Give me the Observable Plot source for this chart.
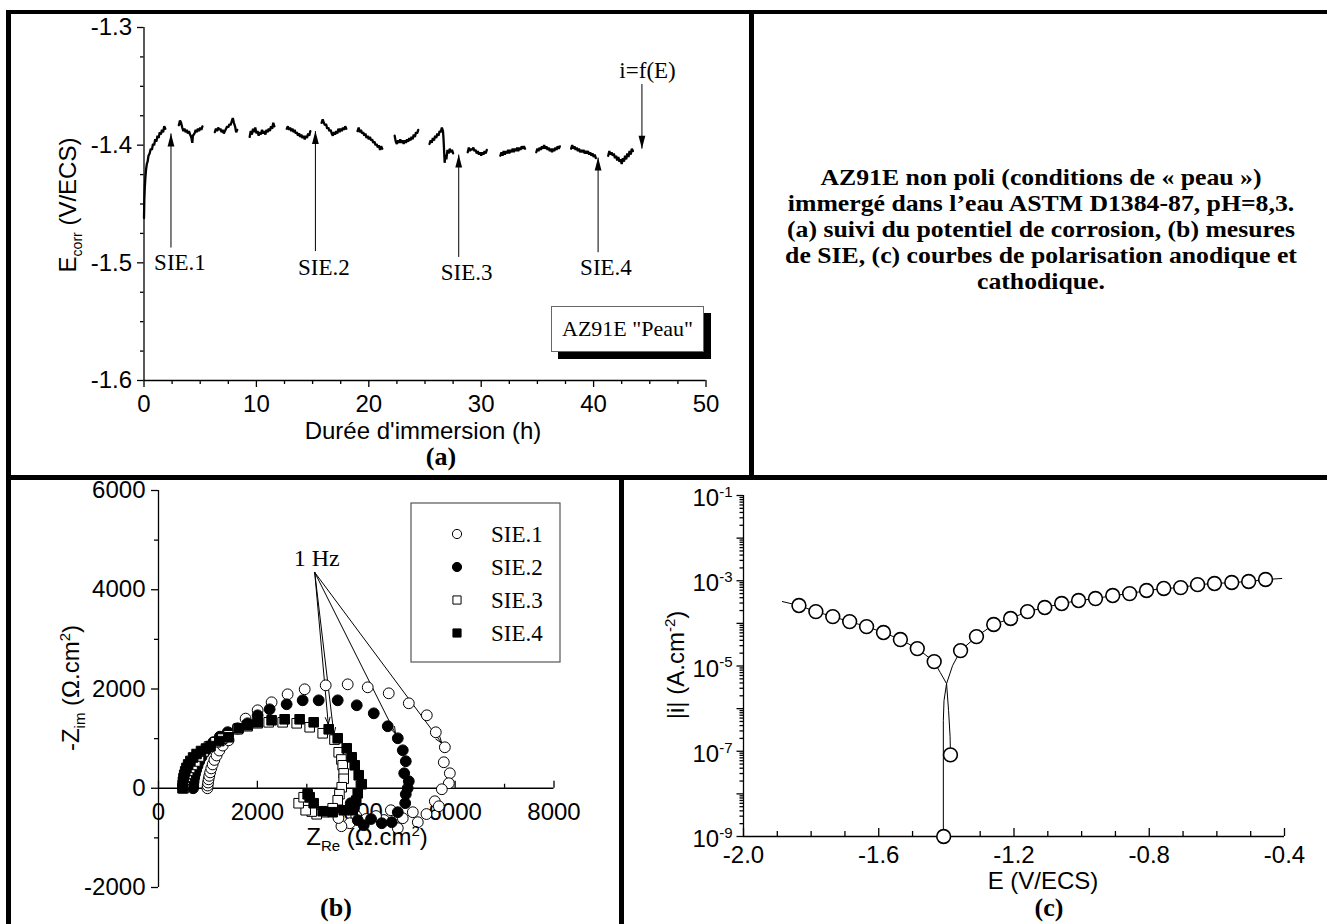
<!DOCTYPE html>
<html><head><meta charset="utf-8">
<script src="https://cdn.jsdelivr.net/npm/d3@7"></script>
<script src="https://cdn.jsdelivr.net/npm/@observablehq/plot@0.6"></script>
<style>
body{margin:0;background:#fff;}
#page{position:relative;width:1327px;height:924px;overflow:hidden;background:#fff;font-family:'Liberation Sans',Arial,sans-serif;color:#000;}
.bar{position:absolute;background:#000;z-index:5;}
.panel{position:absolute;}
.atitle{position:absolute;white-space:nowrap;font-family:'Liberation Sans',Arial,sans-serif;font-size:24px;line-height:1;}
.atitle sub,.atitle sup{font-size:15px;}
.plab{position:absolute;transform:translate(-50%,-50%);font-family:'Liberation Serif','Times New Roman',serif;font-weight:bold;font-size:26px;line-height:1;}
.dline{position:absolute;left:755px;width:572px;text-align:center;font-family:'Liberation Serif','Times New Roman',serif;font-weight:bold;font-size:23.4px;line-height:1;transform:translateY(-50%) scaleX(1.1);transform-origin:50% 50%;white-space:nowrap;}
</style></head><body>
<div id="page">
  <div id="pa" class="panel" style="left:0;top:0;width:750px;height:475px"></div>
  <div id="pb" class="panel" style="left:0;top:475px;width:620px;height:449px"></div>
  <div id="pc" class="panel" style="left:620px;top:475px;width:707px;height:449px"></div>
</div>
<script>
// ---------------- DATA ----------------
// (a) corrosion potential vs immersion time: segments [t (h), E (V/ECS)]
const ecorrSegments = [
 [[0,-1.462],[0.03,-1.446],[0.07,-1.436],[0.12,-1.428],[0.18,-1.421],[0.25,-1.416],[0.32,-1.414],[0.4,-1.409],[0.5,-1.407],[0.6,-1.403],[0.7,-1.404],[0.8,-1.399],[0.9,-1.400],[1.0,-1.395],[1.1,-1.397],[1.2,-1.392],[1.3,-1.394],[1.4,-1.389],[1.5,-1.391],[1.6,-1.387],[1.7,-1.389],[1.8,-1.384],[1.9,-1.386]],
 [[3.1,-1.383],[3.2,-1.379],[3.3,-1.381],[3.4,-1.385],[3.5,-1.388],[3.6,-1.386],[3.7,-1.389],[3.8,-1.387],[3.9,-1.390],[4.0,-1.388],[4.1,-1.391],[4.2,-1.393],[4.3,-1.398],[4.35,-1.392],[4.5,-1.390],[4.6,-1.387],[4.7,-1.389],[4.8,-1.386],[4.9,-1.388],[5.0,-1.385],[5.1,-1.387],[5.2,-1.384]],
 [[6.3,-1.389],[6.4,-1.386],[6.5,-1.388],[6.6,-1.385],[6.7,-1.387],[6.8,-1.386],[6.9,-1.389],[7.0,-1.387],[7.1,-1.390],[7.2,-1.388],[7.3,-1.386],[7.4,-1.384],[7.5,-1.385],[7.6,-1.382],[7.7,-1.383],[7.8,-1.380],[7.9,-1.377],[8.0,-1.381],[8.1,-1.384],[8.2,-1.389],[8.3,-1.387]],
 [[9.4,-1.393],[9.5,-1.388],[9.6,-1.391],[9.7,-1.386],[9.8,-1.389],[9.9,-1.385],[10.0,-1.390],[10.1,-1.388],[10.2,-1.392],[10.3,-1.389],[10.4,-1.391],[10.5,-1.387],[10.6,-1.390],[10.7,-1.388],[10.8,-1.391],[10.9,-1.387],[11.0,-1.389],[11.1,-1.386],[11.2,-1.388],[11.3,-1.384],[11.4,-1.386],[11.5,-1.381],[11.6,-1.384]],
 [[12.7,-1.386],[12.8,-1.384],[12.9,-1.387],[13.0,-1.385],[13.1,-1.388],[13.2,-1.386],[13.3,-1.389],[13.4,-1.387],[13.5,-1.390],[13.6,-1.389],[13.7,-1.392],[13.8,-1.390],[13.9,-1.393],[14.0,-1.391],[14.1,-1.394],[14.2,-1.392],[14.3,-1.395],[14.4,-1.392],[14.5,-1.394],[14.6,-1.390],[14.7,-1.392],[14.8,-1.388]],
 [[15.8,-1.381],[15.9,-1.378],[16.0,-1.381],[16.1,-1.383],[16.2,-1.382],[16.3,-1.386],[16.4,-1.385],[16.5,-1.388],[16.6,-1.387],[16.7,-1.390],[16.8,-1.392],[16.9,-1.389],[17.0,-1.391],[17.1,-1.388],[17.2,-1.390],[17.3,-1.386],[17.4,-1.389],[17.5,-1.386],[17.6,-1.388],[17.7,-1.385],[17.8,-1.387],[17.9,-1.384],[18.0,-1.386]],
 [[19.0,-1.388],[19.1,-1.385],[19.2,-1.389],[19.3,-1.387],[19.4,-1.390],[19.5,-1.389],[19.6,-1.392],[19.7,-1.390],[19.8,-1.394],[19.9,-1.392],[20.0,-1.395],[20.1,-1.393],[20.2,-1.396],[20.3,-1.395],[20.4,-1.398],[20.5,-1.397],[20.6,-1.400],[20.7,-1.399],[20.8,-1.402],[20.9,-1.400],[21.0,-1.404],[21.1,-1.401],[21.2,-1.403]],
 [[22.3,-1.392],[22.4,-1.397],[22.5,-1.399],[22.6,-1.396],[22.7,-1.398],[22.8,-1.395],[22.9,-1.398],[23.0,-1.396],[23.1,-1.399],[23.2,-1.396],[23.3,-1.398],[23.4,-1.395],[23.5,-1.397],[23.6,-1.394],[23.7,-1.396],[23.8,-1.393],[23.9,-1.395],[24.0,-1.391],[24.1,-1.393],[24.2,-1.389],[24.3,-1.390],[24.4,-1.387]],
 [[25.4,-1.399],[25.5,-1.396],[25.6,-1.398],[25.7,-1.394],[25.8,-1.396],[25.9,-1.392],[26.0,-1.394],[26.1,-1.390],[26.2,-1.392],[26.3,-1.388],[26.4,-1.389],[26.5,-1.385],[26.6,-1.388],[26.65,-1.395],[26.7,-1.405],[26.75,-1.415],[26.8,-1.408],[26.9,-1.412],[27.0,-1.404],[27.1,-1.407],[27.2,-1.403],[27.3,-1.406],[27.4,-1.404],[27.5,-1.407]],
 [[28.8,-1.406],[28.9,-1.402],[29.0,-1.405],[29.1,-1.403],[29.2,-1.404],[29.3,-1.402],[29.4,-1.405],[29.5,-1.404],[29.6,-1.407],[29.7,-1.405],[29.8,-1.408],[29.9,-1.406],[30.0,-1.409],[30.1,-1.406],[30.2,-1.408],[30.3,-1.405],[30.4,-1.407],[30.5,-1.404]],
 [[31.7,-1.409],[31.8,-1.406],[31.9,-1.409],[32.0,-1.405],[32.1,-1.408],[32.2,-1.405],[32.3,-1.407],[32.4,-1.404],[32.5,-1.407],[32.6,-1.404],[32.7,-1.406],[32.8,-1.403],[32.9,-1.406],[33.0,-1.403],[33.1,-1.405],[33.2,-1.402],[33.3,-1.405],[33.4,-1.402],[33.5,-1.404],[33.6,-1.401],[33.7,-1.403],[33.8,-1.401],[33.9,-1.403]],
 [[34.9,-1.406],[35.0,-1.403],[35.1,-1.405],[35.2,-1.402],[35.3,-1.404],[35.4,-1.401],[35.5,-1.403],[35.6,-1.400],[35.7,-1.403],[35.8,-1.401],[35.9,-1.404],[36.0,-1.402],[36.1,-1.405],[36.2,-1.403],[36.3,-1.406],[36.4,-1.403],[36.5,-1.405],[36.6,-1.402],[36.7,-1.404],[36.8,-1.401],[36.9,-1.403],[37.0,-1.401]],
 [[38.0,-1.403],[38.1,-1.400],[38.2,-1.403],[38.3,-1.401],[38.4,-1.404],[38.5,-1.402],[38.6,-1.405],[38.7,-1.403],[38.8,-1.406],[38.9,-1.404],[39.0,-1.406],[39.1,-1.404],[39.2,-1.407],[39.3,-1.405],[39.4,-1.407],[39.5,-1.405],[39.6,-1.408],[39.7,-1.406],[39.8,-1.409],[39.9,-1.407],[40.0,-1.410],[40.1,-1.408],[40.2,-1.411]],
 [[41.3,-1.409],[41.4,-1.405],[41.5,-1.408],[41.6,-1.406],[41.7,-1.409],[41.8,-1.407],[41.9,-1.411],[42.0,-1.409],[42.1,-1.413],[42.2,-1.410],[42.3,-1.414],[42.4,-1.412],[42.5,-1.416],[42.6,-1.411],[42.7,-1.414],[42.8,-1.409],[42.9,-1.412],[43.0,-1.407],[43.1,-1.410],[43.2,-1.405],[43.3,-1.408],[43.4,-1.403],[43.5,-1.405]]
];
const timeTicks = [0, 10, 20, 30, 40, 50];
const timeMinorTicks = [2.5,5,7.5,12.5,15,17.5,22.5,25,27.5,32.5,35,37.5,42.5,45,47.5];
const ecorrTicks = [-1.6, -1.5, -1.4, -1.3];
const ecorrMinorTicks = [-1.575,-1.55,-1.525,-1.475,-1.45,-1.425,-1.375,-1.35,-1.325];
// annotations of (a): measurement instants
const sieEvents = [
  {name: "SIE.1", t: 2.4,   tip: -1.390, tail: -1.487, labelT: 3.2,  labelE: -1.500},
  {name: "SIE.2", t: 15.25, tip: -1.388, tail: -1.490, labelT: 16.0, labelE: -1.504},
  {name: "SIE.3", t: 28.0,  tip: -1.408, tail: -1.495, labelT: 28.7, labelE: -1.508},
  {name: "SIE.4", t: 40.4,  tip: -1.4105, tail: -1.491, labelT: 41.1, labelE: -1.504}
];
const polEvent = [{name: "i=f(E)", t: 44.3, tail: -1.348, tip: -1.403, labelT: 44.8, labelE: -1.337}];

// (b) Nyquist diagrams [Zre, -Zim] in ohm.cm2
const sieNames = ["SIE.1", "SIE.2", "SIE.3", "SIE.4"];
const sie1 = [[990,0],[995,55],[1003,115],[1013,180],[1027,250],[1045,320],[1068,400],[1095,480],[1130,570],[1175,660],[1230,760],[1300,860],[1418,967],[1600,1200],[1762,1403],[2005,1571],[2288,1732],[2612,1893],[2957,1994],[3382,2074],[3827,2094],[4232,2034],[4657,1913],[5063,1712],[5427,1470],[5609,1128],[5792,826],[5771,524],[5893,302],[5873,101],[5731,-20],[5589,-262],[5670,-363],[5420,-520],[5245,-684],[5144,-483],[4941,-604],[4840,-805],[4700,-443],[4560,-640],[4400,-560],[4200,-620],[4000,-560],[3868,-705],[3700,-765],[3640,-600]];
const sie2 = [[700,0],[703,60],[710,130],[722,210],[740,290],[762,370],[790,450],[825,540],[870,630],[930,730],[1010,830],[1110,930],[1240,1040],[1400,1130],[1600,1208],[1802,1309],[2005,1470],[2248,1591],[2592,1692],[2916,1772],[3240,1772],[3625,1772],[4010,1672],[4354,1510],[4637,1249],[4840,1007],[4941,765],[5002,544],[4970,302],[5063,141],[5040,0],[5002,-121],[4990,-300],[4840,-483],[4718,-684],[4516,-705],[4300,-620],[4151,-745],[4030,-644],[3949,-403],[3888,-302]];
const sie3 = [[506,0],[510,50],[518,110],[530,170],[548,230],[570,290],[600,350],[640,410],[688,470],[745,540],[820,640],[911,740],[1020,840],[1154,926],[1290,1000],[1418,1067],[1600,1188],[1802,1249],[2005,1309],[2228,1329],[2511,1329],[2795,1309],[3058,1229],[3321,1108],[3560,980],[3645,725],[3700,580],[3726,463],[3746,300],[3746,190],[3706,20],[3660,-120],[3625,-242],[3523,-403],[3341,-483],[3200,-524],[3100,-470],[2977,-443],[2835,-302],[2936,-181]];
const sie4 = [[486,0],[489,60],[495,130],[505,200],[520,270],[540,340],[565,410],[600,480],[645,550],[700,620],[770,690],[860,750],[960,800],[1053,850],[1230,950],[1418,1027],[1620,1208],[1802,1269],[2005,1329],[2288,1370],[2552,1390],[2855,1390],[3139,1329],[3443,1188],[3625,1007],[3807,805],[3908,624],[3969,463],[4050,262],[4111,81],[4030,-101],[4000,-250],[3929,-443],[3746,-443],[3523,-483],[3321,-463],[3139,-302],[3058,-181],[3017,-121]];
const oneHz = [[5792,826],[4840,1007],[3560,980],[3443,1188]]; // 1 Hz point of each series
const oneHzOrigin = [3160, 4350];
const oneHzLabel = [3200, 4640];
const zreTicks = [0, 2000, 4000, 6000, 8000];
const zreMinorTicks = [1000, 3000, 5000, 7000];
const zimTicks = [-2000, 0, 2000, 4000, 6000];
const zimMinorTicks = [-1000, 1000, 3000, 5000];

// (c) polarisation curve: marked points and full curves [E (V/ECS), |i| (A/cm2)]
const polarE = [-1.836,-1.786,-1.736,-1.686,-1.636,-1.586,-1.536,-1.486,-1.436,-1.408,-1.388,-1.358,-1.311,-1.260,-1.210,-1.160,-1.109,-1.059,-1.009,-0.959,-0.908,-0.858,-0.808,-0.757,-0.707,-0.657,-0.607,-0.556,-0.506,-0.456];
const polarI = [2.62e-4,1.89e-4,1.44e-4,1.10e-4,8.4e-5,6.1e-5,4.17e-5,2.56e-5,1.27e-5,1e-9,8.2e-8,2.3e-5,4.9e-5,9.4e-5,1.30e-4,1.89e-4,2.35e-4,2.92e-4,3.43e-4,3.82e-4,4.5e-4,5.0e-4,5.9e-4,6.6e-4,6.9e-4,8.1e-4,8.6e-4,9.1e-4,9.6e-4,1.07e-3];
const cathodicCurve = [[-1.885,3.25e-4],[-1.836,2.62e-4],[-1.786,1.89e-4],[-1.736,1.44e-4],[-1.686,1.10e-4],[-1.636,8.4e-5],[-1.586,6.1e-5],[-1.536,4.17e-5],[-1.486,2.56e-5],[-1.436,1.27e-5],[-1.418,7.0e-6],[-1.3994,3.86e-6],[-1.3935,9.0e-7],[-1.389,2.2e-7],[-1.388,8.2e-8]];
const anodicCurve = [[-0.408,1.13e-3],[-0.456,1.07e-3],[-0.506,9.6e-4],[-0.556,9.1e-4],[-0.607,8.6e-4],[-0.657,8.1e-4],[-0.707,6.9e-4],[-0.757,6.6e-4],[-0.808,5.9e-4],[-0.858,5.0e-4],[-0.908,4.5e-4],[-0.959,3.82e-4],[-1.009,3.43e-4],[-1.059,2.92e-4],[-1.109,2.35e-4],[-1.160,1.89e-4],[-1.210,1.30e-4],[-1.260,9.4e-5],[-1.311,4.9e-5],[-1.358,2.3e-5],[-1.3817,1.02e-5],[-1.3994,3.86e-6],[-1.407,1.54e-6],[-1.409,5.2e-7],[-1.409,1e-9]];
const eTicks = [-2.0, -1.6, -1.2, -0.8, -0.4];
const eMinorTicks = [-1.9,-1.8,-1.7,-1.5,-1.4,-1.3,-1.1,-1.0,-0.9,-0.7,-0.6,-0.5];
const iLabelExps = [-1, -3, -5, -7, -9];
const iDecadeExps = [-9,-8,-7,-6,-5,-4,-3,-2,-1];

// caption text (top right)
const captionLines = [
  "AZ91E non poli (conditions de «\u00a0peau\u00a0»)",
  "immergé dans l’eau ASTM D1384-87, pH=8,3.",
  "(a) suivi du potentiel de corrosion, (b) mesures",
  "de SIE, (c) courbes de polarisation anodique et",
  "cathodique."
];

// ---------------- RENDER ----------------
const SANS = "'Liberation Sans', Arial, sans-serif";
const SERIF = "'Liberation Serif', 'Times New Roman', serif";
const baseStyle = `font-family:${SANS};font-size:24px;background:transparent;overflow:visible;`;
const AX = {stroke: "black", strokeWidth: 1.3};
const page = document.getElementById("page");

// --- Panel (a)
const ecorrRows = ecorrSegments.flatMap((seg, k) => seg.map(([t, E]) => ({t, E, seg: k})));
const headUp = {draw(c) { c.moveTo(0, 0); c.lineTo(3.4, 13); c.lineTo(-3.4, 13); c.closePath(); }};
const headDown = {draw(c) { c.moveTo(0, 0); c.lineTo(3.4, -13); c.lineTo(-3.4, -13); c.closePath(); }};

const plotA = Plot.plot({
  width: 750, height: 475,
  marginLeft: 143.5, marginRight: 44.5, marginTop: 27, marginBottom: 95,
  x: {domain: [0, 50], axis: null},
  y: {domain: [-1.6, -1.3], axis: null},
  style: baseStyle,
  marks: [
    Plot.ruleY(ecorrMinorTicks, {y: d => d, x1: 0, x2: 0, insetLeft: -3.5, ...AX}),
    Plot.ruleY(ecorrTicks, {y: d => d, x1: 0, x2: 0, insetLeft: -6.5, ...AX}),
    Plot.ruleX(timeMinorTicks, {x: d => d, y1: -1.6, y2: -1.6, insetBottom: -4, ...AX}),
    Plot.ruleX(timeTicks, {x: d => d, y1: -1.6, y2: -1.6, insetBottom: -7, ...AX}),
    Plot.ruleX([0], AX),
    Plot.ruleY([-1.6], AX),
    Plot.text(ecorrTicks, {x: 0, y: d => d, text: d => d.toFixed(1), textAnchor: "end", dx: -12}),
    Plot.text(timeTicks, {x: d => d, y: -1.6, text: d => String(d), dy: 24}),
    Plot.line(ecorrRows, {x: "t", y: "E", z: "seg", stroke: "black", strokeWidth: 2.3, strokeLinejoin: "miter"}),
    Plot.link(sieEvents, {x1: "t", x2: "t", y1: "tail", y2: "tip", stroke: "black", strokeWidth: 1}),
    Plot.dot(sieEvents, {x: "t", y: "tip", symbol: headUp, r: 5, fill: "black", stroke: "none"}),
    Plot.text(sieEvents, {x: "labelT", y: "labelE", text: "name", fontFamily: SERIF, fontSize: 23}),
    Plot.link(polEvent, {x1: "t", x2: "t", y1: "tail", y2: "tip", stroke: "black", strokeWidth: 1}),
    Plot.dot(polEvent, {x: "t", y: "tip", symbol: headDown, r: 5, fill: "black", stroke: "none"}),
    Plot.text(polEvent, {x: "labelT", y: "labelE", text: "name", fontFamily: SERIF, fontSize: 23})
  ]
});
document.getElementById("pa").append(plotA);

// --- Panel (b)
const toRows = arr => arr.map(([zre, zim]) => ({zre, zim}));
const oneHzRows = oneHz.map(([zre, zim], k) => ({zre, zim, name: sieNames[k]}));
const R = 5.4;
const plotB = Plot.plot({
  width: 620, height: 449,
  marginLeft: 158, marginRight: 66.5, marginTop: 15, marginBottom: 37,
  x: {domain: [0, 8000], axis: null},
  y: {domain: [-2000, 6000], axis: null},
  style: baseStyle,
  marks: [
    Plot.ruleY(zimMinorTicks, {y: d => d, x1: 0, x2: 0, insetLeft: -4, ...AX}),
    Plot.ruleY(zimTicks, {y: d => d, x1: 0, x2: 0, insetLeft: -7, ...AX}),
    Plot.ruleX(zreMinorTicks, {x: d => d, y1: 0, y2: 0, insetBottom: 4, ...AX}),
    Plot.ruleX(zreTicks, {x: d => d, y1: 0, y2: 0, insetBottom: 7, ...AX}),
    Plot.ruleX([0], AX),
    Plot.ruleY([0], AX),
    Plot.text(zimTicks, {x: 0, y: d => d, text: d => String(d), textAnchor: "end", dx: -13}),
    Plot.text(zreTicks, {x: d => d, y: 0, text: d => String(d), dy: 24}),
    Plot.arrow(oneHzRows, {x1: () => oneHzOrigin[0], y1: () => oneHzOrigin[1], x2: "zre", y2: "zim",
      stroke: "black", strokeWidth: 1, headLength: 11, headAngle: 38, insetEnd: 5}),
    Plot.text([oneHzLabel], {x: d => d[0], y: d => d[1], text: () => "1 Hz", fontFamily: SERIF, fontSize: 24}),
    Plot.dot(toRows(sie1), {x: "zre", y: "zim", r: R, symbol: "circle", fill: "white", stroke: "black", strokeWidth: 1}),
    Plot.dot(toRows(sie2), {x: "zre", y: "zim", r: R, symbol: "circle", fill: "black", stroke: "black", strokeWidth: 1}),
    Plot.dot(toRows(sie3), {x: "zre", y: "zim", r: R, symbol: "square", fill: "white", stroke: "black", strokeWidth: 1}),
    Plot.dot(toRows(sie4), {x: "zre", y: "zim", r: R, symbol: "square", fill: "black", stroke: "black", strokeWidth: 1})
  ]
});
document.getElementById("pb").append(plotB);

// --- Panel (c)
const polarRows = polarE.map((E, k) => ({E, i: polarI[k]}));
const curveRows = [
  ...cathodicCurve.map(([E, i]) => ({E, i, branch: "cathodic"})),
  ...anodicCurve.map(([E, i]) => ({E, i, branch: "anodic"}))
];
const decadeVals = iDecadeExps.map(e => 10 ** e);
const minorVals = iDecadeExps.slice(0, -1).flatMap(e => d3.range(2, 10).map(m => m * 10 ** e));
const plotC = Plot.plot({
  width: 707, height: 449,
  marginLeft: 123, marginRight: 43, marginTop: 20, marginBottom: 88,
  x: {domain: [-2.0, -0.4], axis: null},
  y: {type: "log", domain: [1e-9, 1e-1], axis: null},
  style: baseStyle,
  marks: [
    Plot.ruleY(minorVals, {y: d => d, x1: -2.0, x2: -2.0, insetLeft: -3.5, ...AX}),
    Plot.ruleY(decadeVals, {y: d => d, x1: -2.0, x2: -2.0, insetLeft: -6.5, ...AX}),
    Plot.ruleX(eMinorTicks, {x: d => d, y1: 1e-9, y2: 1e-9, insetBottom: 5, ...AX}),
    Plot.ruleX(eTicks, {x: d => d, y1: 1e-9, y2: 1e-9, insetBottom: 8, ...AX}),
    Plot.ruleX([-2.0], AX),
    Plot.ruleY([1e-9], AX),
    Plot.text(iLabelExps, {x: -2.0, y: e => 10 ** e, text: e => "10^" + e, textAnchor: "end", dx: -11, dy: 3}),
    Plot.text(eTicks, {x: d => d, y: 1e-9, text: d => d.toFixed(1), dy: 19}),
    Plot.line(curveRows, {x: "E", y: "i", z: "branch", stroke: "black", strokeWidth: 1}),
    Plot.dot(polarRows, {x: "E", y: "i", r: 6.9, fill: "white", stroke: "black", strokeWidth: 1.6})
  ]
});
document.getElementById("pc").append(plotC);

// superscript exponents on the log axis labels
const NS = "http://www.w3.org/2000/svg";
plotC.querySelectorAll("text").forEach(t => {
  const s = t.textContent;
  if (!s.includes("^")) return;
  const [base, exp] = s.split("^");
  t.textContent = "";
  const a = document.createElementNS(NS, "tspan"); a.textContent = base;
  const b = document.createElementNS(NS, "tspan"); b.textContent = exp;
  b.setAttribute("font-size", "15"); b.setAttribute("dy", "-0.62em");
  t.append(a, b);
});

// ---------------- OVERLAYS: frame, titles, legend, notes ----------------
function addBar(l, t, w, h) { const d = document.createElement("div"); d.className = "bar"; Object.assign(d.style, {left: l + "px", top: t + "px", width: w + "px", height: h + "px"}); page.append(d); }
addBar(6, 10, 1321, 4);
addBar(6, 10, 5, 914);
addBar(749, 10, 5, 468);
addBar(6, 475, 1321, 5);
addBar(619, 475, 5, 449);

function addTitle(html, x, y, rot) {
  const d = document.createElement("div"); d.className = "atitle"; d.innerHTML = html;
  d.style.left = x + "px"; d.style.top = y + "px";
  d.style.transform = "translate(-50%,-50%)" + (rot ? " rotate(-90deg)" : "");
  page.append(d);
}
addTitle("E<sub style='font-size:14px'>corr</sub> (V/ECS)", 70, 205, true);
addTitle("Durée d'immersion (h)", 423, 431, false);
addTitle("-Z<sub>im</sub> (&Omega;.cm<sup>2</sup>)", 72, 688, true);
addTitle("Z<sub>Re</sub> (&Omega;.cm<sup>2</sup>)", 367, 838, false);
addTitle("|i| (A.cm<sup>-2</sup>)", 675, 665, true);
addTitle("E (V/ECS)", 1043, 881, false);

function addPanelLabel(txt, x, y) { const d = document.createElement("div"); d.className = "plab"; d.textContent = txt; d.style.left = x + "px"; d.style.top = y + "px"; page.append(d); }
addPanelLabel("(a)", 441, 457);
addPanelLabel("(b)", 336, 908);
addPanelLabel("(c)", 1049, 908);

// description text, one line per element
captionLines.forEach((line, k) => {
  const d = document.createElement("div"); d.className = "dline";
  d.textContent = line; d.style.top = (178 + k * 26) + "px";
  page.append(d);
});

// sample box with shadow in (a)
const shadow = document.createElement("div");
Object.assign(shadow.style, {position: "absolute", left: "558px", top: "313px", width: "153px", height: "46px", background: "#000"});
const box = document.createElement("div");
Object.assign(box.style, {position: "absolute", left: "551px", top: "306px", width: "151px", height: "44px", background: "#fff", border: "1px solid #666",
  font: "22px " + SERIF, display: "flex", alignItems: "center", justifyContent: "center"});
box.textContent = 'AZ91E "Peau"';
page.append(shadow, box);

// legend of (b)
const legendStyles = [
  {symbol: d3.symbolCircle, fill: "white"},
  {symbol: d3.symbolCircle, fill: "black"},
  {symbol: d3.symbolSquare, fill: "white"},
  {symbol: d3.symbolSquare, fill: "black"}
];
const leg = d3.create("svg").attr("width", 151).attr("height", 161)
  .style("position", "absolute").style("left", "410px").style("top", "502px").style("overflow", "visible");
leg.append("rect").attr("x", 1).attr("y", 1).attr("width", 149).attr("height", 159).attr("fill", "white").attr("stroke", "#555").attr("stroke-width", 1.2);
sieNames.forEach((name, k) => {
  const cy = 32 + k * 33;
  leg.append("path").attr("transform", `translate(47,${cy})`)
    .attr("d", d3.symbol(legendStyles[k].symbol, Math.PI * 4.6 * 4.6)())
    .attr("fill", legendStyles[k].fill).attr("stroke", "black").attr("stroke-width", 1);
  leg.append("text").attr("x", 81).attr("y", cy).attr("dy", "0.35em")
    .attr("font-family", SERIF).attr("font-size", 23).text(name);
});
page.append(leg.node());
</script>
</body></html>
